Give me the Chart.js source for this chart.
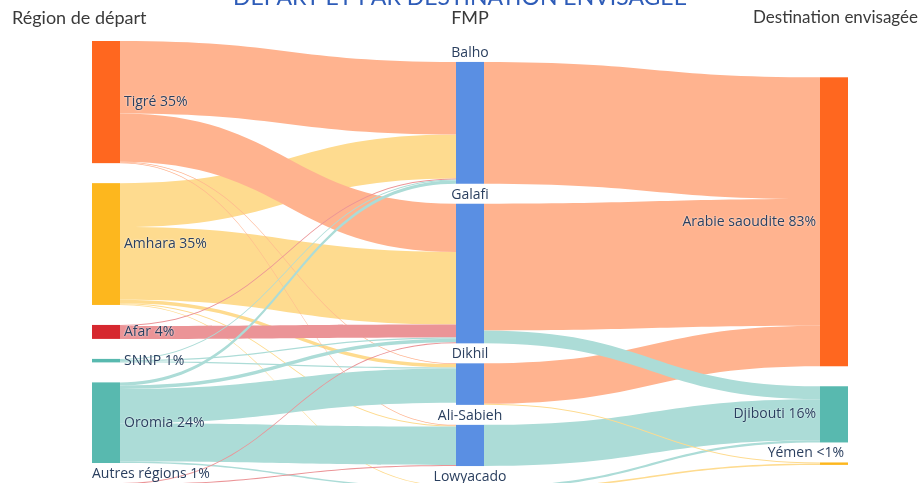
<!DOCTYPE html>
<html>
<head>
<meta charset="utf-8">
<script src="https://cdn.jsdelivr.net/npm/chart.js@4"></script>
<style>
  html, body { margin: 0; padding: 0; background: #fff; }
  #wrap { width: 919px; height: 483px; }
</style>
</head>
<body>
<div id="wrap"><canvas id="sankeyChart" width="919" height="483"></canvas></div>
<script>
// nodes
const regions = ['Tigré', 'Amhara', 'Afar', 'SNNP', 'Oromia', 'Autres régions'];
const regionLabels = ['Tigré 35%', 'Amhara 35%', 'Afar 4%', 'SNNP 1%', 'Oromia 24%', 'Autres régions 1%'];
const fmps = ['Balho', 'Galafi', 'Dikhil', 'Ali-Sabieh', 'Lowyacado'];
const destinations = ['Arabie saoudite', 'Djibouti', 'Yémen'];
const destinationLabels = ['Arabie saoudite 83%', 'Djibouti 16%', 'Yémen <1%'];

// % of migrants, rows = regions, cols = fmps
const regionToFmp = [
    [20.8, 13.8, 0.2, 0.2, 0],
    [12.6, 20.8, 1.0, 0.3, 0.2],
    [0.3, 3.7, 0, 0, 0],
    [0.3, 0.4, 0.3, 0, 0],
    [0.9, 1.0, 9.8, 11.0, 0.4],
    [0, 0.3, 0, 0.3, 0.4]
];
// rows = fmps, cols = destinations
const fmpToDestination = [
    [34.9, 0, 0],
    [36.3, 3.7, 0],
    [11.6, 0, 0.3],
    [0, 11.8, 0],
    [0, 0.6, 0.4]
];

// styles
const regionColors = ['#ff671f', '#fdb71e', '#d6282f', '#58b9af', '#58b9af', '#d6282f'];
const fmpColor = '#5a8fe3';
const destinationColors = ['#ff671f', '#58b9af', '#fdb71e'];
const regionDrawOrder = [1, 0, 2, 3, 4, 5];
const columnTop = [0, 6.0, 10.4];   // in value units
const nodeGap = 5.73;               // in value units
const nodeWidth = 28;
const labelColor = '#2a3f5f';

function lighten(hex, k) {
    const n = parseInt(hex.slice(1), 16);
    const mix = (c) => Math.round(c + (255 - c) * k);
    return `rgb(${mix(n >> 16)}, ${mix((n >> 8) & 255)}, ${mix(n & 255)})`;
}

// build nodes + links
const nodes = [];
regions.forEach((r, i) => nodes.push({ col: 0, label: regionLabels[i], color: regionColors[i], labelPos: i === 5 ? 'aboveLeft' : 'right' }));
fmps.forEach((f) => nodes.push({ col: 1, label: f, color: fmpColor, labelPos: 'above' }));
destinations.forEach((d, i) => nodes.push({ col: 2, label: destinationLabels[i], color: destinationColors[i], labelPos: i === 2 ? 'aboveRight' : 'left' }));

const links = [];
regionDrawOrder.forEach((i) => regionToFmp[i].forEach((v, j) => {
    if (v > 0) links.push({ source: i, target: regions.length + j, value: v, color: lighten(regionColors[i], 0.5) });
}));
destinations.forEach((d, j) => fmpToDestination.forEach((row, i) => {
    const v = row[j];
    if (v > 0) links.push({ source: regions.length + i, target: regions.length + fmps.length + j, value: v, color: lighten(destinationColors[j], 0.5) });
}));

nodes.forEach((n) => { n.inLinks = []; n.outLinks = []; });
links.forEach((l) => { nodes[l.source].outLinks.push(l); nodes[l.target].inLinks.push(l); });
nodes.forEach((n) => {
    const inSum = n.inLinks.reduce((s, l) => s + l.value, 0);
    const outSum = n.outLinks.reduce((s, l) => s + l.value, 0);
    n.value = Math.max(inSum, outSum);
});
// stack nodes inside each column
[0, 1, 2].forEach((c) => {
    let y = columnTop[c];
    nodes.filter((n) => n.col === c).forEach((n) => {
        n.y0 = y;
        n.y1 = y + n.value;
        y = n.y1 + nodeGap;
    });
});
// stack links at each node, sorted by the other end
nodes.forEach((n) => {
    let y = n.y0;
    n.outLinks.slice().sort((a, b) => nodes[a.target].y0 - nodes[b.target].y0).forEach((l) => { l.sy0 = y; y += l.value; l.sy1 = y; });
    y = n.y0;
    n.inLinks.slice().sort((a, b) => nodes[a.source].y0 - nodes[b.source].y0).forEach((l) => { l.ty0 = y; y += l.value; l.ty1 = y; });
});

const sankeyPlugin = {
    id: 'sankey',
    afterDatasetsDraw(chart) {
        const ctx = chart.ctx;
        const xs = chart.scales.x, ys = chart.scales.y;
        const nx = (n) => xs.getPixelForValue(n.col);

        // links
        links.forEach((l) => {
            const x0 = nx(nodes[l.source]) + nodeWidth;
            const x1 = nx(nodes[l.target]);
            const xm = (x0 + x1) / 2;
            const a0 = ys.getPixelForValue(l.sy0), a1 = ys.getPixelForValue(l.sy1);
            const b0 = ys.getPixelForValue(l.ty0), b1 = ys.getPixelForValue(l.ty1);
            ctx.beginPath();
            ctx.moveTo(x0, a0);
            ctx.bezierCurveTo(xm, a0, xm, b0, x1, b0);
            ctx.lineTo(x1, b1);
            ctx.bezierCurveTo(xm, b1, xm, a1, x0, a1);
            ctx.closePath();
            ctx.fillStyle = l.color;
            ctx.fill();
        });

        // nodes
        nodes.forEach((n) => {
            const top = ys.getPixelForValue(n.y0), bot = ys.getPixelForValue(n.y1);
            ctx.fillStyle = n.color;
            ctx.fillRect(nx(n), top, nodeWidth, Math.max(bot - top, 1));
        });

        // node labels
        ctx.save();
        ctx.font = '14px "Open Sans"';
        ctx.fillStyle = labelColor;
        ctx.textBaseline = 'middle';
        ctx.shadowColor = '#fff';
        ctx.shadowBlur = 2;
        nodes.forEach((n) => {
            const left = nx(n);
            const top = ys.getPixelForValue(n.y0), bot = ys.getPixelForValue(n.y1);
            const mid = (top + bot) / 2;
            if (n.labelPos === 'right') { ctx.textAlign = 'left'; ctx.fillText(n.label, left + nodeWidth + 4, mid); }
            else if (n.labelPos === 'left') { ctx.textAlign = 'right'; ctx.fillText(n.label, left - 4, mid); }
            else if (n.labelPos === 'above') { ctx.textAlign = 'center'; ctx.fillText(n.label, left + nodeWidth / 2, top - 9); }
            else if (n.labelPos === 'aboveLeft') { ctx.textAlign = 'left'; ctx.fillText(n.label, left, top - 9); }
            else if (n.labelPos === 'aboveRight') { ctx.textAlign = 'right'; ctx.fillText(n.label, left + nodeWidth - 4, top - 9); }
        });
        ctx.restore();

        // column headers + title (cut at top, like the original)
        ctx.save();
        ctx.textBaseline = 'middle';
        ctx.fillStyle = '#3a3a3a';
        ctx.font = '18px Lato';
        ctx.textAlign = 'left';
        ctx.fillText('Région de départ', 12, 18);
        ctx.textAlign = 'center';
        ctx.fillText('FMP', xs.getPixelForValue(1) + nodeWidth / 2, 18);
        ctx.font = '17px Lato';
        ctx.textAlign = 'right';
        ctx.fillText('Destination envisagée', 918, 18);
        ctx.fillStyle = '#2e5cb8';
        ctx.font = '23px Lato';
        ctx.textAlign = 'center';
        ctx.textBaseline = 'alphabetic';
        ctx.fillText('DÉPART ET PAR DESTINATION ENVISAGÉE', 460, 5);
        ctx.restore();
    }
};

const pxPerUnit = 3.49;
const ctx = document.getElementById('sankeyChart').getContext('2d');
const sankeyChart = new Chart(ctx, {
    type: 'scatter',
    data: { datasets: [] },
    options: {
        responsive: false,
        animation: false,
        devicePixelRatio: 1,
        layout: { padding: { left: 92, right: 99, top: 41, bottom: 0 } },
        scales: {
            x: { type: 'linear', min: 0, max: 2, display: false },
            y: { type: 'linear', min: 0, max: (483 - 41) / pxPerUnit, reverse: true, display: false }
        },
        plugins: {
            legend: { display: false },
            tooltip: { enabled: false }
        }
    },
    plugins: [sankeyPlugin]
});
</script>
</body>
</html>
